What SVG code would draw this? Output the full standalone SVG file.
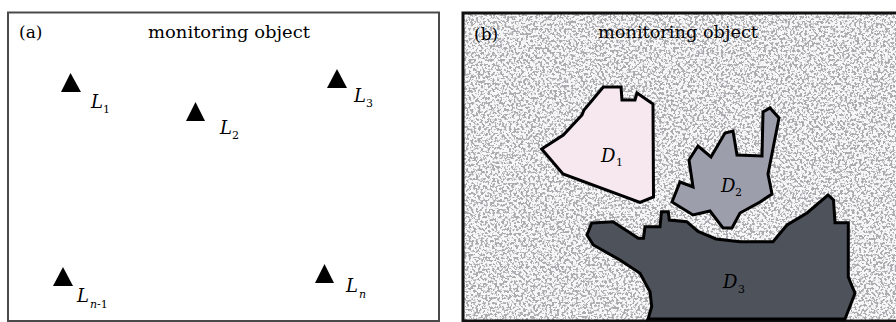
<svg xmlns="http://www.w3.org/2000/svg" width="896" height="322" viewBox="0 0 896 322">
<defs>
<filter id="speckle" x="0" y="0" width="100%" height="100%" filterUnits="objectBoundingBox">
<feTurbulence type="fractalNoise" baseFrequency="0.42" numOctaves="2" seed="7" result="t"/>
<feColorMatrix in="t" type="matrix" values="0 0 0 0 0.40  0 0 0 0 0.40  0 0 0 0 0.43  10 0 0 0 -4.9"/>
</filter>
<style>
.lbl{font-family:"DejaVu Serif","Liberation Serif",serif;font-size:17px;fill:#000}
.it{font-family:"DejaVu Serif","Liberation Serif",serif;font-style:italic;font-size:18px;fill:#000}
.sub{font-family:"DejaVu Serif","Liberation Serif",serif;font-size:11px;fill:#000}
.si{font-style:italic}
.tri{fill:#000}
.reg{stroke:#000;stroke-width:3;stroke-linejoin:miter}
</style>
</defs>
<rect width="896" height="322" fill="#ffffff"/>

<g id="panel-a">
<rect x="8" y="12.5" width="431" height="308.5" fill="#ffffff" stroke="#4a4a4a" stroke-width="2"/>
<text class="lbl" x="19" y="38">(a)</text>
<text class="lbl" x="148" y="38" textLength="162" lengthAdjust="spacingAndGlyphs">monitoring object</text>
</g>

<g id="L1"><polygon class="tri" points="70.5,73 61,92 81,92"/><text class="it" x="91" y="108">L</text><text class="sub" x="103" y="113">1</text></g>
<g id="L2"><polygon class="tri" points="195.5,102 186,121 205,121"/><text class="it" x="220" y="134">L</text><text class="sub" x="232" y="139">2</text></g>
<g id="L3"><polygon class="tri" points="337,69 327,88 347,88"/><text class="it" x="354" y="102">L</text><text class="sub" x="366" y="107">3</text></g>
<g id="Ln-1"><polygon class="tri" points="63,267 53,286 73,286"/><text class="it" x="77" y="302">L</text><text class="sub" x="90" y="308"><tspan class="si">n</tspan>-1</text></g>
<g id="Ln"><polygon class="tri" points="324.5,264 315,283 334,283"/><text class="it" x="346" y="292">L</text><text class="sub si" x="359" y="298">n</text></g>

<g id="panel-b">
<rect x="463" y="13" width="440" height="310" fill="#f7f7f8"/>
<rect x="463" y="13" width="440" height="310" filter="url(#speckle)"/>
<rect x="463" y="13" width="440" height="308" fill="none" stroke="#111" stroke-width="3"/>
<text class="lbl" x="474" y="40">(b)</text>
<text class="lbl" x="598" y="38" textLength="160" lengthAdjust="spacingAndGlyphs">monitoring object</text>
</g>

<g id="D1">
<polygon class="reg" fill="#f6e8ee" points="541.7,149 563.3,135 582,115 584,110 603.3,87 621,87 622,100 635,100 637,93 653,104 653.5,197 640,202.5 563,174"/>
<text class="it" x="601" y="162">D</text><text class="sub" x="616" y="166">1</text>
</g>

<g id="D2">
<polygon class="reg" fill="#9d9eac" points="672,202 680,182 693,187 689,160 698,146 711,157 725,133 733,131 737,155 762,156 763,112 770,108 779,118 768,174 772,194 760,202 740,213 732,228 723,228 710,211 693,215"/>
<text class="it" x="721" y="192">D</text><text class="sub" x="735" y="196">2</text>
</g>

<g id="D3">
<polygon class="reg" fill="#4d525b" points="591.7,223 613,221.7 638.3,238.3 643.5,238.3 645,226.7 660,226.7 661.5,211.7 668.3,211.7 669.3,220 686.7,221.7 698,231.5 716,239 740,241.7 773,241.7 787,225 807,213 828,195 833.5,200 835,222.7 848.3,222.7 848.3,277 855,293.3 845,319 648,319 651.7,306.7 650,291.7 640,273.3 620,260 593.3,245 587,235"/>
<text class="it" x="723" y="288">D</text><text class="sub" x="738" y="293">3</text>
</g>

<g id="connectors"/>
</svg>
